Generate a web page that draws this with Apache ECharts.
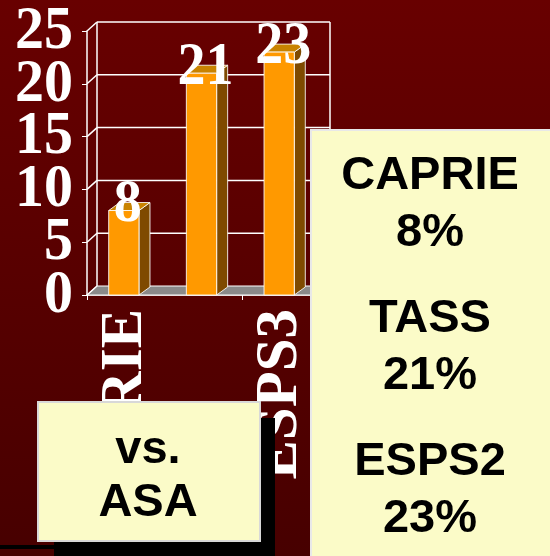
<!DOCTYPE html>
<html>
<head>
<meta charset="utf-8">
<script src="https://cdn.jsdelivr.net/npm/echarts@6/dist/echarts.min.js"></script>
<style>
  html, body { margin: 0; padding: 0; }
  #chart { width: 550px; height: 556px; }
</style>
</head>
<body>
<div id="chart"></div>
<script>
// data
const categories = ['CAPRIE', 'TASS', 'ESPS3']
const values = [8, 21, 23]
const yTicks = [0, 5, 10, 15, 20, 25]
const boxLines = ['CAPRIE\n8%', 'TASS\n21%', 'ESPS2\n23%']
const noteLines = 'vs.\nASA'

const DX = 10, DY = 9        // depth of the 3d frame
const BDX = 11, BDY = 8      // depth of a bar
const serif = '"Liberation Serif", "DejaVu Serif", serif'
const sans = '"Liberation Sans", Arial, sans-serif'
const yellow = '#FBFBC8'

const chart = echarts.init(document.getElementById('chart'))

// walls, floor, back grid lines and the big tick labels
// (echarts drops overlapping value labels, so they are drawn here)
function renderFrame(params, api) {
  const cs = params.coordSys
  const v = api.value(0)
  const y = api.coord([0, v])[1]
  const x0 = cs.x, x1 = cs.x + cs.width
  const white = { stroke: '#ffffff', lineWidth: 1.5 }
  const children = []
  if (v === 0) {
    children.push({
      type: 'polygon',
      shape: { points: [[x0, y], [x1, y], [x1 + DX, y - DY], [x0 + DX, y - DY]] },
      style: { fill: '#8a8a8a', stroke: '#ffffff', lineWidth: 1 }
    })
    // back wall side edges
    const yTop = api.coord([0, yTicks[yTicks.length - 1]])[1]
    children.push({
      type: 'line',
      shape: { x1: x0 + DX, y1: y - DY, x2: x0 + DX, y2: yTop - DY },
      style: white
    })
    children.push({
      type: 'line',
      shape: { x1: x1 + DX, y1: y - DY, x2: x1 + DX, y2: yTop - DY },
      style: white
    })
  } else {
    children.push({
      type: 'line',
      shape: { x1: x0 + DX, y1: y - DY, x2: x1 + DX, y2: y - DY },
      style: white
    })
  }
  children.push({
    type: 'line',
    shape: { x1: x0, y1: y, x2: x0 + DX, y2: y - DY },
    style: white
  })
  children.push({
    type: 'text',
    x: x0 - 14,
    y: y + 1,
    scaleY: 1.05,
    style: {
      text: String(v),
      fill: '#ffffff',
      font: 'bold 58px ' + serif,
      align: 'right',
      verticalAlign: 'middle'
    }
  })
  return { type: 'group', children: children }
}

function renderBar(params, api) {
  const i = api.value(0)
  const v = api.value(1)
  const top = api.coord([i, v])
  const base = api.coord([i, 0])
  const w = api.size([1, 0])[0] * 0.39
  const xl = top[0] - w / 2 - 2, xr = xl + w
  const yt = top[1], yb = base[1]
  const edge = 'rgba(255,255,255,0.85)'
  return {
    type: 'group',
    children: [
      {
        type: 'polygon',
        shape: { points: [[xr, yb], [xr, yt], [xr + BDX, yt - BDY], [xr + BDX, yb - BDY]] },
        style: { fill: '#7F4A00', stroke: edge, lineWidth: 1 }
      },
      {
        type: 'polygon',
        shape: { points: [[xl, yt], [xr, yt], [xr + BDX, yt - BDY], [xl + BDX, yt - BDY]] },
        style: { fill: '#C98300', stroke: edge, lineWidth: 1 }
      },
      {
        type: 'rect',
        shape: { x: xl, y: yt, width: w, height: yb - yt },
        style: { fill: '#FF9900', stroke: edge, lineWidth: 1 }
      },
      {
        type: 'text',
        x: xl + w / 2 + 4,
        y: yt - 5,
        scaleY: 1.1,
        style: {
          text: String(v),
          fill: '#ffffff',
          font: 'bold 56px ' + serif,
          align: 'center',
          verticalAlign: 'middle'
        }
      }
    ]
  }
}

const option = {
  animation: false,
  backgroundColor: {
    type: 'linear', x: 0, y: 0, x2: 0, y2: 1,
    colorStops: [
      { offset: 0, color: '#680000' },
      { offset: 1, color: '#470000' }
    ]
  },
  grid: { left: 87, right: 230, top: 31, bottom: 261 },
  xAxis: {
    type: 'category',
    data: categories,
    axisLine: { lineStyle: { color: '#ffffff', width: 1.5 } },
    axisTick: { show: true, length: 5, lineStyle: { color: '#ffffff' } },
    axisLabel: {
      interval: 1,
      rotate: 90,
      margin: 14,
      color: '#ffffff',
      fontFamily: serif,
      fontWeight: 'bold',
      fontSize: 59
    }
  },
  yAxis: {
    type: 'value',
    min: 0,
    max: 25,
    interval: 5,
    axisLine: { show: true, lineStyle: { color: '#ffffff', width: 1.5 } },
    axisTick: { show: true, length: 5, lineStyle: { color: '#ffffff' } },
    splitLine: { show: false },
    axisLabel: { show: false }
  },
  series: [
    {
      type: 'custom',
      renderItem: renderFrame,
      data: yTicks.map(v => [v]),
      encode: { y: 0 },
      silent: true,
      clip: false,
      z: 1
    },
    {
      type: 'custom',
      renderItem: renderBar,
      data: values.map((v, i) => [i, v]),
      encode: { x: 0, y: 1 },
      silent: true,
      z: 2
    }
  ],
  graphic: [
    // right legend box
    {
      type: 'rect',
      left: 310, top: 129,
      shape: { width: 245, height: 432 },
      style: { fill: yellow, stroke: '#e8e8e8', lineWidth: 2 },
      z: 10
    },
    ...boxLines.map((t, k) => ({
      type: 'text',
      x: 430,
      y: 205 + k * 143,
      style: {
        text: t,
        fill: '#000000',
        font: 'bold 47px ' + sans,
        lineHeight: 57,
        align: 'center',
        verticalAlign: 'middle'
      },
      z: 11
    })),
    // shadow and note box
    {
      type: 'rect',
      left: 54, top: 418,
      shape: { width: 221, height: 140 },
      style: { fill: '#000000' },
      z: 10
    },
    {
      type: 'rect',
      left: 0, top: 545,
      shape: { width: 54, height: 4 },
      style: { fill: '#000000' },
      z: 10
    },
    {
      type: 'rect',
      left: 37, top: 401,
      shape: { width: 222, height: 139 },
      style: { fill: yellow, stroke: '#d8d8d8', lineWidth: 2 },
      z: 11
    },
    {
      type: 'text',
      x: 148,
      y: 477,
      style: {
        text: noteLines,
        fill: '#000000',
        font: 'bold 47px ' + sans,
        lineHeight: 53,
        align: 'center',
        verticalAlign: 'middle'
      },
      z: 12
    }
  ]
}

chart.setOption(option)
</script>
</body>
</html>
